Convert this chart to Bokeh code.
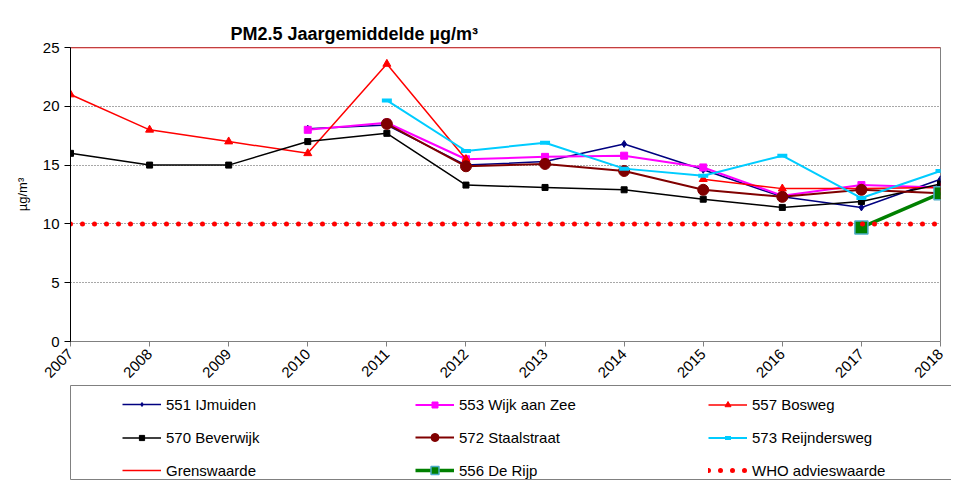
import math
from bokeh.plotting import figure
from bokeh.layouts import column
from bokeh.models import Legend, LegendItem, Range1d, FixedTicker
from bokeh.embed import file_html
from bokeh.resources import INLINE

nan = float("nan")

# ---- data ----
years = [2007, 2008, 2009, 2010, 2011, 2012, 2013, 2014, 2015, 2016, 2017, 2018]
s551_ijmuiden = [nan, nan, nan, 18.1, 18.4, 15.0, 15.3, 16.8, 14.6, 12.3, 11.4, 13.8]
s553_wijk_aan_zee = [nan, nan, nan, 18.0, 18.6, 15.5, 15.7, 15.8, 14.8, 12.4, 13.3, 13.1]
s557_bosweg = [21.0, 18.0, 17.0, 16.0, 23.6, 15.5, nan, nan, 13.8, 13.0, 13.0, 13.1]
s570_beverwijk = [16.0, 15.0, 15.0, 17.0, 17.7, 13.3, 13.1, 12.9, 12.1, 11.4, 11.9, 13.4]
s572_staalstraat = [nan, nan, nan, nan, 18.5, 14.9, 15.1, 14.5, 12.9, 12.3, 12.9, 12.6]
s573_reijndersweg = [nan, nan, nan, nan, 20.5, 16.2, 16.9, 14.7, 14.1, 15.8, 12.2, 14.5]
s556_de_rijp = [nan, nan, nan, nan, nan, nan, nan, nan, nan, nan, 9.7, 12.6]
grenswaarde = 25
who_advieswaarde = 10
y_ticks = [0, 5, 10, 15, 20, 25]

FONT = "Liberation Sans"
W = 951


def add_series(fig):
    r = {}
    r["551"] = [fig.line(years, s551_ijmuiden, line_color="#000080", line_width=1.5),
                fig.scatter(years, s551_ijmuiden, marker="diamond", size=7, color="#000080")]
    r["553"] = [fig.line(years, s553_wijk_aan_zee, line_color="#FF00FF", line_width=2),
                fig.scatter(years, s553_wijk_aan_zee, marker="square", size=7, color="#FF00FF")]
    r["557"] = [fig.line(years, s557_bosweg, line_color="#FF0000", line_width=1.5),
                fig.scatter(years, s557_bosweg, marker="triangle", size=8, color="#FF0000")]
    r["570"] = [fig.line(years, s570_beverwijk, line_color="black", line_width=1.5),
                fig.scatter(years, s570_beverwijk, marker="square", size=6, color="black")]
    r["572"] = [fig.line(years, s572_staalstraat, line_color="#800000", line_width=2),
                fig.scatter(years, s572_staalstraat, marker="circle", size=11, color="#800000")]
    r["573"] = [fig.line(years, s573_reijndersweg, line_color="#00CCFF", line_width=2),
                fig.scatter(years, s573_reijndersweg, marker="dash", size=10,
                            line_color="#00CCFF", line_width=4)]
    r["grens"] = [fig.line(years, [grenswaarde] * len(years), line_color="#FF0000", line_width=1.5)]
    r["556"] = [fig.line(years, s556_de_rijp, line_color="#008000", line_width=3.5),
                fig.scatter(years, s556_de_rijp, marker="square", size=13, fill_color="#008000",
                            line_color="#4BACC6", line_width=1.5)]
    r["who"] = [fig.line(years, [who_advieswaarde] * len(years), line_color="#FF0000",
                         line_width=5, line_dash="0 12", line_cap="round")]
    return r


# ---------------- main chart ----------------
p = figure(
    width=W, height=384,
    frame_width=870, frame_height=294,
    min_border_left=70, min_border_right=W - 940, min_border_top=47, min_border_bottom=43,
    x_range=Range1d(years[0], years[-1]), y_range=Range1d(0, 25),
    output_backend="svg", toolbar_location=None,
    background_fill_color="white", border_fill_color="white",
    title="PM2.5 Jaargemiddelde µg/m³",
)
p.outline_line_color = "#808080"

p.title.align = "left"
p.title.offset = 160
p.title.text_font = FONT
p.title.text_font_size = "18px"
p.title.text_font_style = "bold"
p.title.text_color = "black"
p.title.standoff = 7

p.xaxis.ticker = FixedTicker(ticks=years)
p.xaxis.major_label_orientation = math.pi / 4
p.xaxis.major_label_text_font = FONT
p.xaxis.major_label_text_font_size = "15px"
p.xaxis.major_label_text_color = "black"
p.xaxis.axis_line_color = "#808080"
p.xaxis.major_tick_line_color = "#808080"
p.xaxis.major_tick_in = 0
p.xaxis.major_tick_out = 5
p.xaxis.minor_tick_line_color = None

p.yaxis.ticker = FixedTicker(ticks=y_ticks)
p.yaxis.major_label_text_font = FONT
p.yaxis.major_label_text_font_size = "15px"
p.yaxis.major_label_text_color = "black"
p.yaxis.axis_line_color = "black"
p.yaxis.major_tick_line_color = "black"
p.yaxis.major_tick_in = 0
p.yaxis.major_tick_out = 6
p.yaxis.minor_tick_line_color = None
p.yaxis.axis_label = "µg/m³"
p.yaxis.axis_label_text_font = FONT
p.yaxis.axis_label_text_font_size = "13px"
p.yaxis.axis_label_text_font_style = "normal"
p.yaxis.axis_label_text_color = "black"
p.yaxis.axis_label_standoff = 10

p.xgrid.grid_line_color = None
p.ygrid.grid_line_color = "#505050"
p.ygrid.grid_line_dash = "1 2"
p.ygrid.grid_line_width = 1

add_series(p)

# ---------------- legend panel ----------------
q = figure(
    width=W, height=95,
    frame_width=948 - 66, frame_height=95,
    min_border_left=66, min_border_right=W - 948, min_border_top=0, min_border_bottom=0,
    x_range=Range1d(0, 1), y_range=Range1d(0, 1),
    x_axis_type=None, y_axis_type=None,
    output_backend="svg", toolbar_location=None,
    background_fill_color="white", border_fill_color="white",
)
q.outline_line_color = "#808080"
q.grid.visible = False
lr = add_series(q)   # proxies for the legend (outside the legend panel's ranges)

# (label, renderers key, column x, row y, legend glyph box height -> marker size)
legend_spec = [
    ("551 IJmuiden", "551", 99, 66, 10),
    ("570 Beverwijk", "570", 99, 33, 13),
    ("Grenswaarde", "grens", 99, 0, 20),
    ("553 Wijk aan Zee", "553", 392, 66, 15),
    ("572 Staalstraat", "572", 392, 33, 20),
    ("556 De Rijp", "556", 392, 0, 20),
    ("557 Bosweg", "557", 685, 66, 15),
    ("573 Reijndersweg", "573", 685, 33, 15),
    ("WHO advieswaarde", "who", 685, 0, 20),
]
for label, key, x, y, gh in legend_spec:
    lg = Legend(items=[LegendItem(label=label, renderers=lr[key])],
                location=(x, y), orientation="vertical",
                padding=0, spacing=0, glyph_width=39, glyph_height=gh,
                label_height=20, label_standoff=5,
                label_text_font=FONT, label_text_font_size="15px",
                label_text_color="black",
                background_fill_alpha=0, border_line_color=None)
    q.add_layout(lg, "center")

layout = column(p, q, spacing=0)
open("out.html", "w").write(file_html(layout, INLINE))
